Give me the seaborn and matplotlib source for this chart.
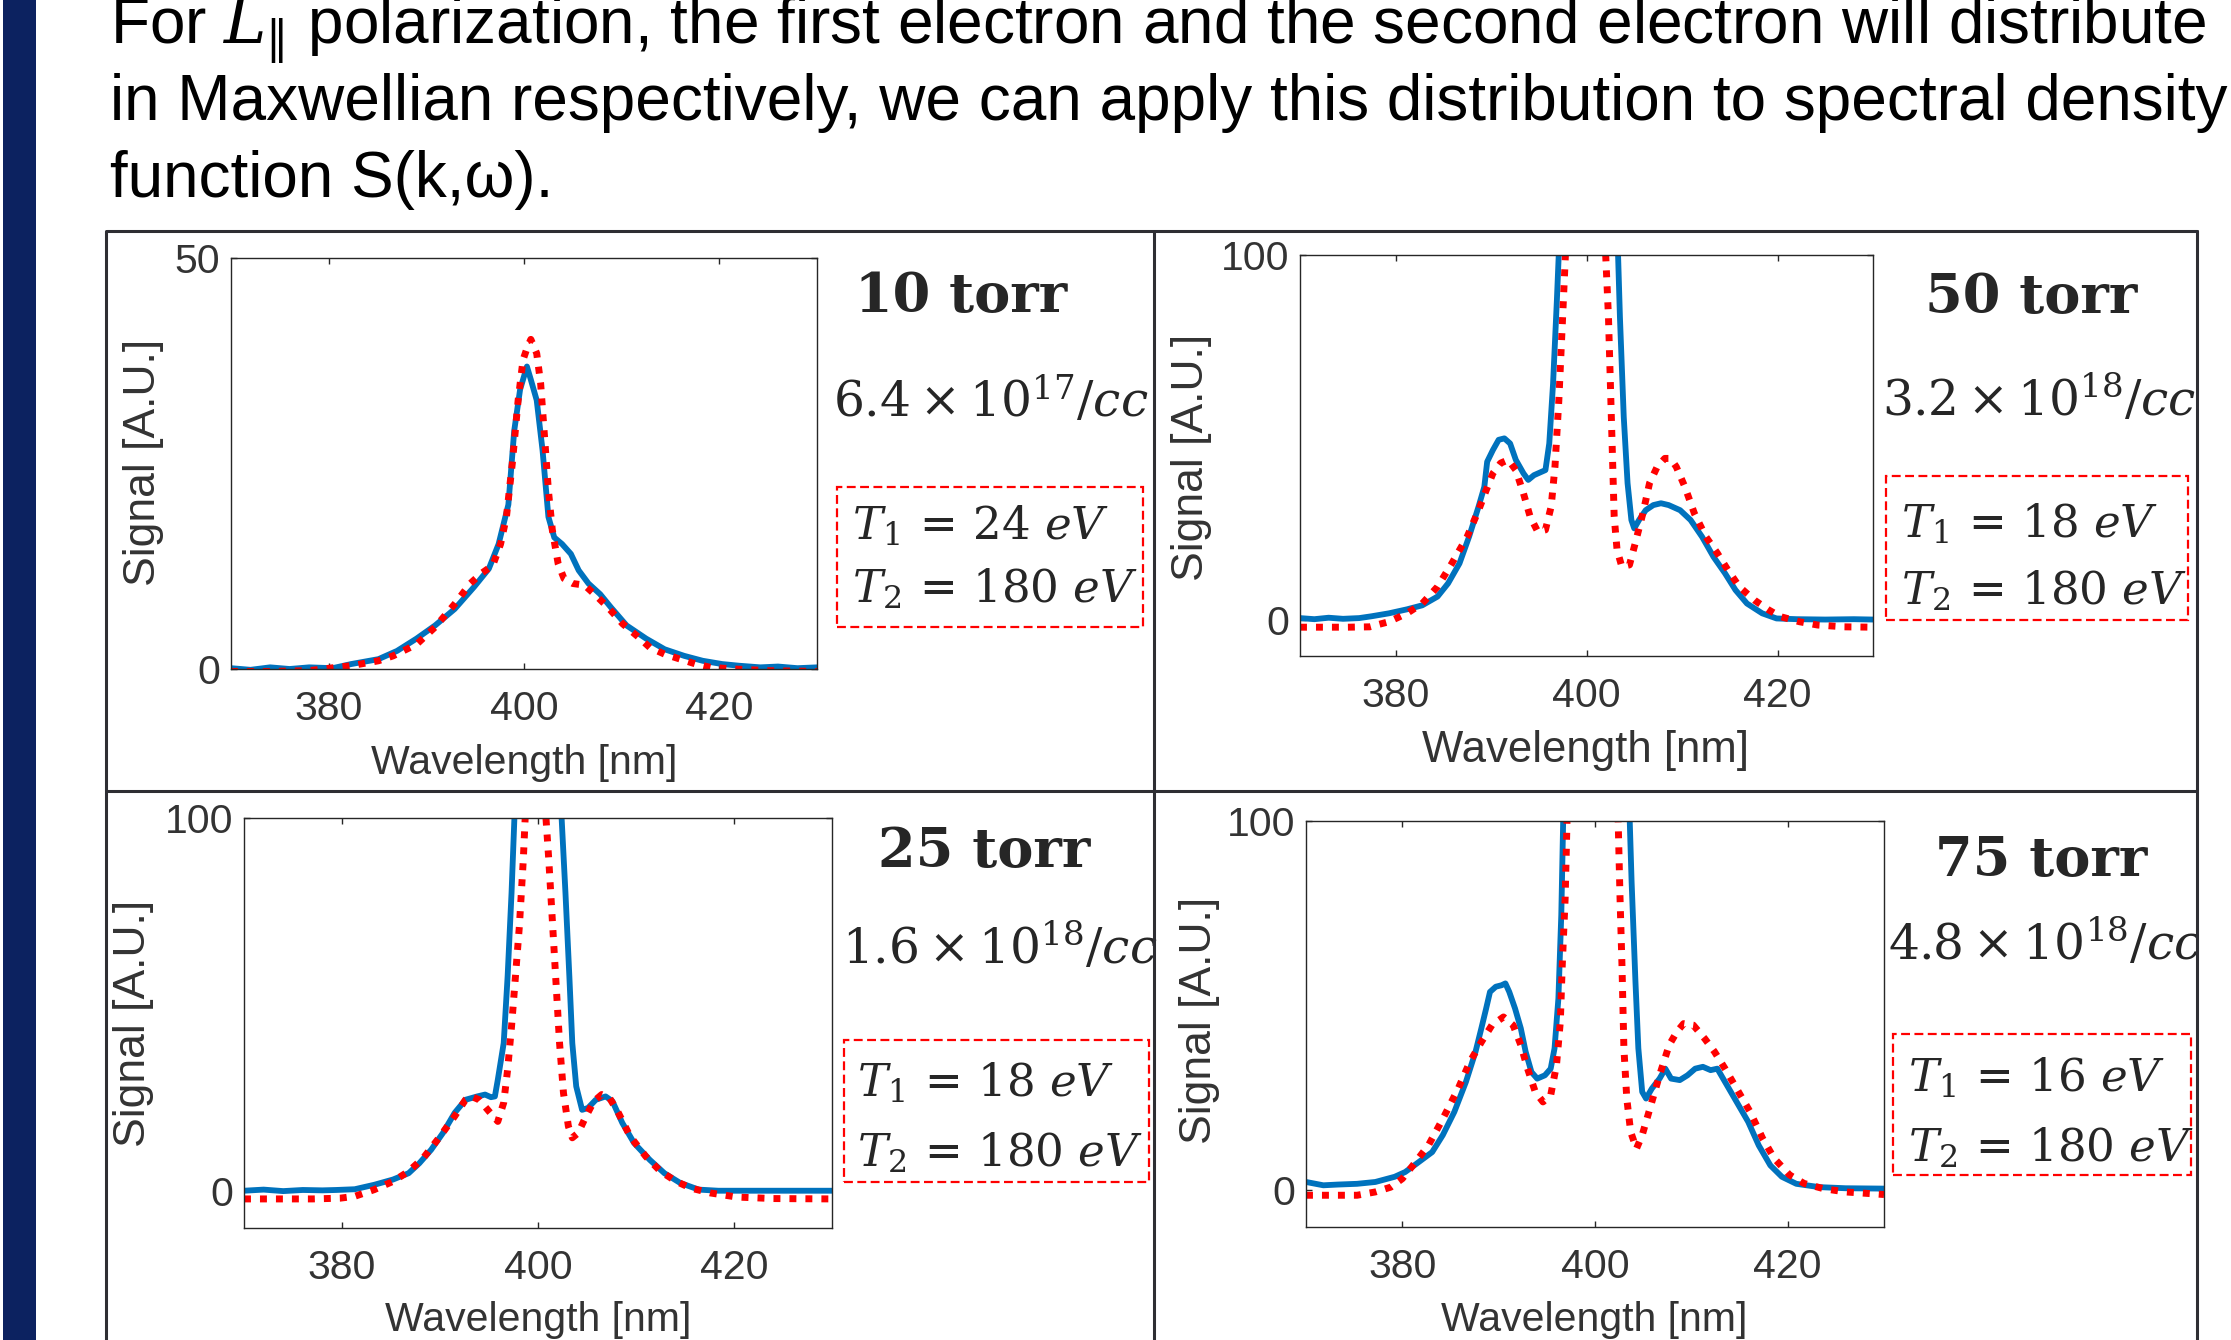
import matplotlib
matplotlib.use("Agg")
import matplotlib.pyplot as plt
import seaborn as sns
from matplotlib.patches import Rectangle
from matplotlib.lines import Line2D
from matplotlib.transforms import Bbox, TransformedBbox

# ===================== data =====================
# 10 torr
p10_meas_x = [370, 372, 374, 376, 378, 380.4, 382.3, 385.1, 387.0, 389.0, 390.9, 392.9, 394.9,
              396.4, 397.4, 398.4, 399.0, 399.6, 400.3, 400.7, 401.3, 401.9, 402.5, 403.1,
              403.9, 404.8, 405.6, 406.6, 407.8, 408.9, 410.5, 412.5, 414.4, 416.4, 418.3,
              420.3, 422, 424.2, 426, 428, 430]
p10_meas_y = [0.1, -0.1, 0.2, 0.0, 0.2, 0.1, 0.6, 1.2, 2.2, 3.7, 5.3, 7.3, 10.0,
              12.2, 15.2, 20.0, 29.0, 34.0, 36.8, 35.2, 32.7, 26.6, 18.5, 16.0,
              15.2, 14.0, 12.0, 10.4, 9.1, 7.5, 5.3, 3.7, 2.4, 1.6, 1.0,
              0.6, 0.4, 0.2, 0.3, 0.1, 0.2]
p10_fit_x = [370, 374, 378, 380.8, 382.3, 385.1, 386.6, 389.0, 390.9, 392.9, 394.5, 395.6,
             396.8, 397.6, 398.2, 398.8, 399.4, 399.9, 400.3, 400.7, 401.3, 401.7, 402.1,
             402.5, 402.9, 403.5, 404.1, 405.0, 406.2, 407.4, 408.6, 410.1, 411.7, 412.9,
             414.4, 416.0, 417.6, 419.1, 421.5, 425, 430]
p10_fit_y = [-0.3, -0.3, -0.2, 0.2, 0.4, 1.0, 1.6, 3.0, 5.1, 7.9, 10.4, 11.6,
             12.6, 15.2, 18.5, 25.0, 32.7, 37.6, 39.0, 40.1, 38.4, 34.8, 28.3,
             21.7, 16.9, 12.8, 11.0, 10.4, 10.2, 8.9, 7.5, 5.5, 3.9, 2.6,
             1.8, 1.2, 0.6, 0.2, 0.0, -0.2, -0.3]

# 50 torr
p50_meas_x = [370, 371.5, 373, 374.5, 376.2, 377.5, 379.3, 381.2, 382.8, 384.4, 385.5, 386.7,
              387.7, 388.7, 389.3, 389.6, 390.2, 390.8, 391.4, 392.0, 392.6, 393.4, 393.9,
              394.5, 395.7, 396.1, 396.5, 396.9, 397.1, 398.5, 400.0, 401.8, 403.3, 403.5,
              403.9, 404.3, 404.7, 405.0, 405.5, 406.2, 407.0, 407.8, 408.6, 409.8, 410.9,
              412.1, 413.3, 414.5, 415.6, 416.8, 418.4, 419.9, 422, 425, 428, 430]
p50_meas_y = [0.4, 0.1, 0.5, 0.2, 0.4, 0.9, 1.7, 2.8, 3.9, 6.3, 9.9, 15.4,
              22.7, 31.0, 36.4, 43.3, 46.5, 49.3, 49.7, 48.3, 43.8, 40.1, 38.3,
              39.6, 41.0, 48.3, 64.8, 87.7, 100.5, 200, 250, 200, 100.5, 83,
              55.6, 37.4, 27.3, 25.0, 27.3, 30.0, 31.4, 31.9, 31.4, 30.0, 27.3,
              22.7, 17.2, 12.7, 8.1, 4.4, 1.7, 0.3, 0.1, 0.0, 0.1, 0.0]
p50_fit_x = [370, 373, 375, 377.3, 379.3, 381.2, 382.8, 384.4, 385.9, 387.5, 388.7, 389.5,
             390.2, 391.0, 391.8, 392.6, 393.4, 394.1, 394.9, 395.7, 396.3, 396.7, 397.1,
             397.5, 397.8, 399, 400, 401, 402.0, 402.3, 402.5, 402.7, 402.9, 403.2, 403.7,
             404.5, 405.1, 405.9, 406.6, 407.4, 408.2, 408.8, 409.4, 410.3, 411.3, 412.5,
             413.7, 414.8, 416.0, 417.6, 419.1, 420.3, 422.3, 424.2, 427, 430]
p50_fit_y = [-2.1, -2.1, -2.1, -2.0, -0.6, 1.7, 4.4, 9.0, 15.4, 22.7, 30.0, 35.5,
             40.1, 42.9, 43.8, 41.0, 34.6, 28.2, 24.1, 24.6, 31.0, 42.0, 60.0,
             83.0, 100.5, 180, 220, 180, 100.5, 83, 64.8, 46.5, 28.2, 19.1, 14.5,
             15.0, 20.9, 29.1, 37.4, 41.9, 44.2, 44.2, 41.9, 36.4, 29.1, 22.7,
             18.2, 13.6, 9.0, 5.3, 2.6, 0.8, -0.6, -1.5, -2.0, -2.1]

# 25 torr
p25_meas_x = [370, 372, 374, 376, 378, 379.4, 381.3, 383.3, 385.2, 386.8, 387.9, 389.1,
              390.3, 391.5, 392.6, 393.8, 394.6, 395.2, 395.6, 395.9, 396.5, 396.9, 397.3,
              397.6, 399, 400, 401, 402.4, 402.8, 403.2, 403.5, 403.9, 404.5, 405.1, 405.9,
              406.9, 407.6, 408.6, 409.8, 411.4, 412.9, 414.5, 416.4, 418.4, 421, 424, 427, 430]
p25_meas_y = [0.0, 0.3, -0.1, 0.2, 0.1, 0.2, 0.4, 1.6, 3.0, 4.7, 7.4, 11.0,
              15.5, 20.9, 24.4, 25.3, 25.8, 25.1, 25.3, 29.8, 39.6, 57.5, 79.9,
              100.5, 250, 300, 250, 100.5, 80, 57.5, 39.6, 28.0, 21.7, 22.2, 24.4,
              25.3, 24.0, 18.2, 12.8, 8.3, 4.7, 2.1, 0.3, 0.0, 0.0, 0.0, 0.0, 0.0]
p25_fit_x = [370, 374, 377, 379.8, 381.3, 383.3, 385.2, 386.8, 388.3, 389.9, 391.5, 392.6,
             393.2, 394.0, 395.0, 395.9, 396.5, 396.9, 397.3, 397.7, 398.1, 398.5, 398.7,
             399.7, 400.8, 401.1, 401.4, 401.8, 402.2, 402.6, 403.1, 403.5, 404.1, 404.9,
             405.7, 406.5, 407.3, 408.2, 409.4, 411.0, 412.5, 414.1, 415.6, 417.6, 420.3,
             424, 430]
p25_fit_y = [-2.2, -2.2, -2.2, -2.0, -1.5, 0.3, 2.5, 5.2, 8.8, 14.2, 20.0, 24.4,
             25.3, 24.4, 21.3, 18.6, 23.6, 32.5, 44.1, 57.5, 71.0, 88.8, 100.5,
             200, 100.5, 88.8, 75.4, 57.5, 39.6, 26.2, 17.3, 14.2, 15.5, 20.0,
             24.0, 25.8, 24.9, 20.9, 14.6, 9.2, 5.2, 2.5, 0.7, -0.6, -1.7,
             -2.1, -2.2]

# 75 torr
p75_meas_x = [370, 371.8, 373.3, 375.3, 377.2, 379.2, 380.3, 381.5, 383.1, 384.2, 385.4, 386.6,
              387.6, 388.2, 388.7, 389.1, 389.7, 390.3, 390.7, 391.1, 391.7, 392.3, 392.8,
              393.4, 394.0, 394.8, 395.4, 395.8, 396.2, 396.5, 396.7, 398.5, 400, 402, 403.6,
              403.8, 404.2, 404.5, 404.9, 405.3, 405.9, 406.7, 407.3, 407.9, 408.8, 409.6,
              410.4, 411.2, 412.0, 412.7, 413.5, 414.7, 415.9, 417.0, 418.2, 419.4, 420.9,
              423.3, 426.0, 430]
p75_meas_y = [2.2, 1.3, 1.5, 1.7, 2.2, 3.6, 4.9, 7.2, 10.3, 14.9, 21.2, 29.3,
              37.5, 43.8, 49.2, 53.7, 55.1, 55.5, 56.0, 53.7, 49.2, 43.8, 37.5,
              32.0, 30.2, 31.1, 32.9, 38.4, 51.9, 74.5, 100.5, 220, 280, 220, 100.5,
              83.5, 56.4, 38.4, 26.6, 24.8, 27.5, 30.2, 32.9, 30.2, 29.8, 31.1,
              32.9, 33.4, 32.5, 32.9, 29.3, 23.9, 18.5, 12.1, 6.7, 3.6, 1.7,
              0.8, 0.5, 0.4]
p75_fit_x = [370, 373, 375.3, 377.2, 378.8, 380.0, 381.1, 382.7, 384.2, 385.8, 387.0, 388.2,
             389.3, 390.5, 391.5, 392.3, 393.0, 393.8, 394.6, 395.4, 396.0, 396.4, 396.6,
             396.9, 397.1, 399, 400.5, 402.4, 402.6, 402.8, 403.0, 403.3, 403.7, 404.3,
             404.9, 405.7, 406.7, 407.7, 408.5, 409.2, 410.2, 411.4, 412.4, 413.5, 414.7,
             416.1, 417.4, 418.6, 420.2, 421.7, 423.7, 426.0, 430]
p75_fit_y = [-1.4, -1.4, -1.4, -0.5, 0.8, 3.1, 6.7, 12.1, 19.3, 27.5, 34.7, 40.1,
             44.7, 46.9, 44.7, 39.3, 32.9, 26.6, 23.9, 25.7, 33.8, 45.6, 60.9,
             79.0, 100.5, 200, 200, 100.5, 79.0, 60.9, 38.4, 24.8, 15.8, 11.2,
             14.9, 22.1, 31.1, 39.3, 42.9, 45.1, 44.7, 41.0, 37.5, 32.9, 27.5,
             21.2, 14.0, 8.6, 4.1, 1.8, 0.4, -0.5, -1.2]

pressure_labels = ["10 torr", "50 torr", "25 torr", "75 torr"]
density_labels = [r"$6.4\times10^{17}/cc$", r"$3.2\times10^{18}/cc$",
                  r"$1.6\times10^{18}/cc$", r"$4.8\times10^{18}/cc$"]
t1_labels = [r"$T_1\,=\,24\ eV$", r"$T_1\,=\,18\ eV$", r"$T_1\,=\,18\ eV$", r"$T_1\,=\,16\ eV$"]
t2_labels = [r"$T_2\,=\,180\ eV$"] * 4
y_limits = [(0, 50), (-10, 100), (-10, 100), (-10, 100)]
y_ticks = [[0, 50], [0, 100], [0, 100], [0, 100]]
x_ticks = [380, 400, 420]

body_lines = [r"For $L_{\|}$ polarization, the first electron and the second electron will distribute",
              "in Maxwellian respectively, we can apply this distribution to spectral density",
              "function S(k,\u03c9)."]

meas = [(p10_meas_x, p10_meas_y), (p50_meas_x, p50_meas_y),
        (p25_meas_x, p25_meas_y), (p75_meas_x, p75_meas_y)]
fits = [(p10_fit_x, p10_fit_y), (p50_fit_x, p50_fit_y),
        (p25_fit_x, p25_fit_y), (p75_fit_x, p75_fit_y)]

# ===================== layout (pixels of the 2231x1340 slide) =====================
W, H = 2231, 1340
axes_px = [(231, 258, 817, 669), (1300, 255, 1873, 656),
           (244, 818, 832, 1228), (1306, 821, 1884, 1227)]
xlabel_px = [(524, 763), (1586, 751), (538, 1320), (1594, 1320)]
ylabel_px = [(143, 462), (1191, 457), (133, 1023), (1200, 1020)]
xlabel_size = [29.5, 31.5, 29.5, 29.5]
title_px = [(961, 312), (2031, 313), (984, 867), (2041, 876)]
dens_px = [(833, 417), (1882, 416), (842, 964), (1888, 960)]
box_px = [(837, 487, 1143, 627), (1886, 476, 2188, 620),
          (844, 1040, 1149, 1182), (1893, 1034, 2191, 1175)]
t_px = [(852, 539, 602), (1901, 537, 604), (857, 1096, 1166), (1908, 1091, 1161)]

BLUE = "#0072BD"
RED = "#FF0000"
GREY = "#333333"


def fx(x):
    return x / W


def fy(y):
    return 1 - y / H


sns.set_theme(style="white")
plt.rcParams['font.family'] = ['Liberation Sans', 'DejaVu Sans']
plt.rcParams['mathtext.fontset'] = 'dejavuserif'

fig = plt.figure(figsize=(W / 100, H / 100), dpi=100)
fig.patch.set_facecolor("white")

# dark blue bar on the left of the slide
fig.add_artist(Rectangle((fx(3), 0), 33 / W, 1, transform=fig.transFigure,
                         facecolor="#0c2260", edgecolor="none"))

# slide text
for i, line in enumerate(body_lines):
    fig.text(fx(110), fy([44, 120, 197][i]), line, fontsize=46, color="black",
             ha="left", va="baseline")

for i in range(4):
    l, t, r, b = axes_px[i]
    ax = fig.add_axes([fx(l), fy(b), (r - l) / W, (b - t) / H])
    mx, my = meas[i]
    rx, ry = fits[i]
    sns.lineplot(x=mx, y=my, ax=ax, color=BLUE, lw=4.2, estimator=None, sort=False)
    sns.lineplot(x=rx, y=ry, ax=ax, color=RED, lw=5.0, linestyle=(0, (1, 1.3)),
                 estimator=None, sort=False)
    ax.set_xlim(370, 430)
    ax.set_ylim(*y_limits[i])
    ax.set_xticks(x_ticks)
    ax.set_yticks(y_ticks[i])
    for s in ax.spines.values():
        s.set_visible(True)
        s.set_color("#262626")
        s.set_linewidth(1.0)
    ax.tick_params(direction="in", length=4, width=1, bottom=True, top=True,
                   left=True, right=True, color="#262626", labelcolor=GREY, labelsize=29.5)
    ax.tick_params(axis="x", pad=15)
    ax.tick_params(axis="y", pad=8)

    ax.set_xlabel("Wavelength [nm]", fontsize=xlabel_size[i], color=GREY, va="center")
    ax.set_ylabel("Signal [A.U.]", fontsize=32, color=GREY, va="center")
    xl, yl = xlabel_px[i]
    ax.xaxis.set_label_coords((xl - l) / (r - l), (b - yl) / (b - t))
    xl, yl = ylabel_px[i]
    ax.yaxis.set_label_coords((xl - l) / (r - l), (b - yl) / (b - t))

    # panel annotations
    tx, ty = title_px[i]
    fig.text(fx(tx), fy(ty), pressure_labels[i], fontsize=39, fontweight="bold",
             family="DejaVu Serif", ha="center", va="baseline")
    dx, dy = dens_px[i]
    dt = fig.text(fx(dx), fy(dy), density_labels[i], fontsize=35, ha="left", va="baseline")
    if i == 3:
        dt.set_clip_box(TransformedBbox(Bbox.from_extents(0, 0, fx(2196), 1), fig.transFigure))
        dt.set_clip_on(True)
    bx0, by0, bx1, by1 = box_px[i]
    fig.add_artist(Rectangle((fx(bx0), fy(by1)), (bx1 - bx0) / W, (by1 - by0) / H,
                             transform=fig.transFigure, fill=False, edgecolor=RED,
                             lw=1.6, linestyle=(0, (4, 2))))
    tx, t1y, t2y = t_px[i]
    fig.text(fx(tx), fy(t1y), t1_labels[i], fontsize=32.5, ha="left", va="baseline")
    fig.text(fx(tx), fy(t2y), t2_labels[i], fontsize=32.5, ha="left", va="baseline")

# table frame around the four panels
frame = [((107, 2197), (231, 231)), ((107, 2197), (791, 791)),
         ((106, 106), (231, H)), ((1154, 1154), (231, H)), ((2197, 2197), (231, H))]
for xs, ys in frame:
    fig.add_artist(Line2D([fx(xs[0]), fx(xs[1])], [fy(ys[0]), fy(ys[1])],
                          transform=fig.transFigure, color="#2e2e33", lw=2.2, zorder=10))

fig.savefig("out.png", dpi=100)
